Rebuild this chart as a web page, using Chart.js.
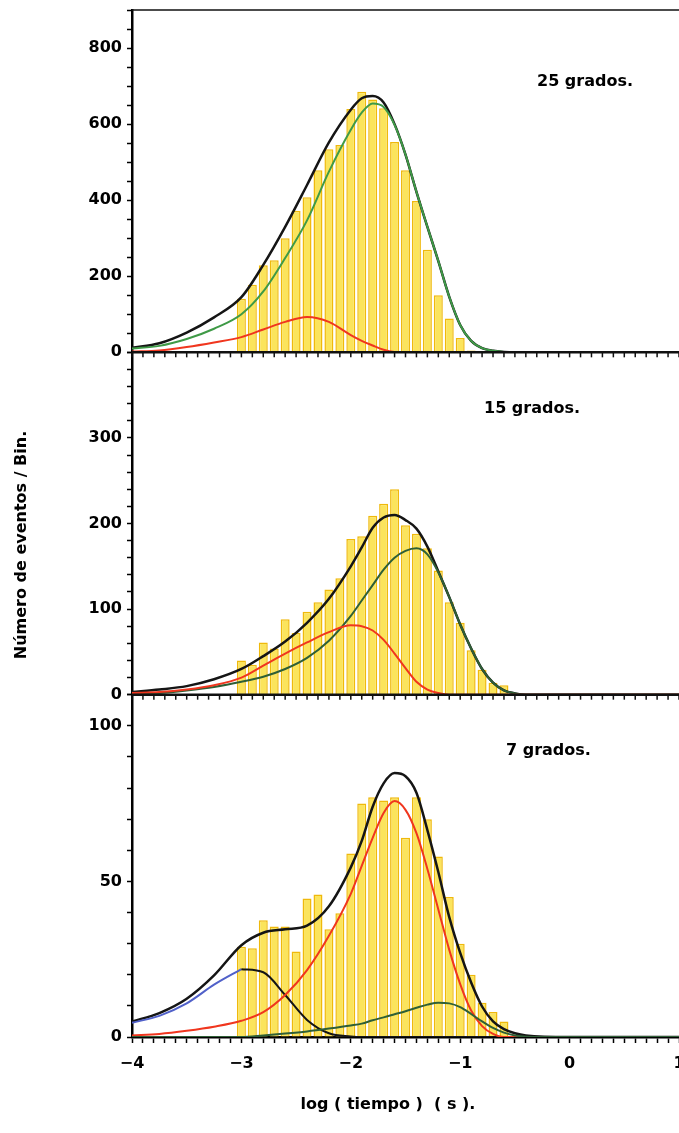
<!DOCTYPE html>
<html>
<head>
<meta charset="utf-8">
<script src="https://cdn.jsdelivr.net/npm/chart.js@4.4.1/dist/chart.umd.min.js"></script>
<style>
  html, body { margin: 0; padding: 0; background: #fff; }
</style>
</head>
<body>
<canvas id="chart" width="679" height="1133"></canvas>
<script>
// ── Datos ────────────────────────────────────────────────────
const binCenters = [-3.0,-2.9,-2.8,-2.7,-2.6,-2.5,-2.4,-2.3,-2.2,-2.1,-2.0,-1.9,-1.8,
                    -1.7,-1.6,-1.5,-1.4,-1.3,-1.2,-1.1,-1.0,-0.9,-0.8,-0.7,-0.6];

const counts25 = [141,178,229,242,300,372,408,479,534,545,640,685,665,642,553,479,398,270,150,89,38,5];
const counts15 = [40,35,61,54,88,72,97,108,123,136,182,185,209,223,240,198,188,171,145,108,84,52,29,14,11];
const counts7  = [29,28.5,37.5,35.5,35.5,27.5,44.5,45.8,34.6,39.8,59,75,77,76,77,64,77,70,58,45,30,20,11,8,5];

const fitX = [-4,-3.75,-3.5,-3.25,-3,-2.8,-2.6,-2.4,-2.2,-2,-1.9,-1.8,-1.7,-1.6,
              -1.5,-1.4,-1.3,-1.2,-1.1,-1,-0.9,-0.8,-0.7,-0.6,-0.5,-0.4,0,1];

const fit25Total = [12,24,52,92,145,230,330,440,552,638,668,674,657,600,520,422,330,240,146,72,30,11,4,1,0,0,0,0];
const fit25Green = [10,17,35,62,100,160,248,347,475,585,630,654,645,598,520,422,330,240,146,72,30,11,4,1,0,0,0,0];
const fit25Red   = [2,5,14,26,40,60,80,93,80,45,30,18,7,1,0,0,0,0,0,0,0,0,0,0,0,0,0,0];

const fit15Total = [3,6,10,18,30,45,62,84,112,150,172,195,207,210,204,194,173,144,114,82,54,30,14,5,1.5,0,0,0];
const fit15Green = [1,2,5,9,15,21,30,43,63,92,110,128,146,160,168,171,164,143,114,82,54,30,14,5,1.5,0,0,0];
const fit15Red   = [2,3,6,11,20,34,48,61,73,81,80,75,64,48,31,15,6,2,0,0,0,0,0,0,0,0,0,0];

const fit7Total = [5,7.7,12.3,19.8,29.5,33.5,34.6,35.8,42,54.5,63,74,81.5,84.8,83.8,78.5,66.5,53,38.5,27,17.5,9.8,5,2.5,1.2,0.5,0,0];
const fit7Blue  = [4.6,6.8,10.8,16.8,21.8,null,null,null,null,null,null,null,null,null,
                   null,null,null,null,null,null,null,null,null,null,null,null,null,null];
const fit7Dark  = [null,null,null,null,21.8,20.8,13.5,5.5,1.2,0.2,0,0,0,0,0,0,0,0,0,0,0,0,0,0,0,0,0,0];
const fit7Red   = [0.5,1,2,3.3,5.2,8,13.5,21.5,32.5,46,55,64,72,75.8,73,65.5,54,41,28,17,8.5,3.5,1,0,0,0,0,0];
const fit7Green = [0,0,0,0,0,0.5,1.1,1.8,2.7,3.7,4.3,5.4,6.3,7.3,8.3,9.4,10.4,11,10.8,9.6,7.4,5,2.9,1.4,0.5,0.1,0,0];

const xTickLabels = [-4,-3,-2,-1,0,1];
const yTicks25 = [0,200,400,600,800];
const yTicks15 = [0,100,200,300];
const yTicks7  = [0,50,100];
const panelLabels = ['25 grados.', '15 grados.', '7 grados.'];

// ── Estilos ──────────────────────────────────────────────────
const FONT = 'DejaVu Sans';
const BAR_FILL   = '#fbe45c';
const BAR_EDGE   = '#efb90c';
const C_BLACK    = '#151515';
const C_GREEN_HI = '#3f9a47';
const C_GREEN    = '#2f5f36';
const C_RED      = '#f0361e';
const C_BLUE     = '#5161c9';

function bars(counts, axis) {
  return {
    type: 'bar',
    data: counts.map((v, i) => ({ x: binCenters[i], y: v })),
    yAxisID: axis,
    backgroundColor: BAR_FILL,
    borderColor: BAR_EDGE,
    borderWidth: 1.5,
    grouped: false,
    barPercentage: 0.82,
    categoryPercentage: 1,
    order: 2
  };
}

function curve(values, axis, color, width) {
  return {
    type: 'line',
    data: values.map((v, i) => ({ x: fitX[i], y: v })),
    yAxisID: axis,
    borderColor: color,
    borderWidth: width,
    pointRadius: 0,
    cubicInterpolationMode: 'monotone',
    spanGaps: false,
    fill: false,
    order: 1
  };
}

function yAxis(max, step, labels) {
  return {
    type: 'linear',
    position: 'left',
    stack: 'panels',
    stackWeight: 1,
    min: 0, max: max,
    ticks: {
      stepSize: step,
      autoSkip: false,
      color: '#000',
      padding: 5,
      font: { family: FONT, size: 16, weight: 'bold' },
      callback: v => labels.includes(v) ? String(v) : ''
    },
    grid: { drawOnChartArea: false, tickLength: 5, tickColor: '#000', tickWidth: 1.5 },
    border: { color: '#000', width: 2.5 },
    afterFit(s) { s.width = 132; s.paddingTop = 0; s.paddingBottom = 0; }
  };
}

function fmtX(v) {
  const r = Math.round(v);
  if (Math.abs(v - r) > 1e-6 || !xTickLabels.includes(r)) return '';
  return r < 0 ? '\u2212' + Math.abs(r) : String(r);
}

// ── Decoración: marcos, ticks menores, rótulos ───────────────
const decor = {
  id: 'decor',
  afterDraw(chart) {
    const { ctx, chartArea: a, scales } = chart;
    const xs = scales.x;
    ctx.save();

    ctx.strokeStyle = '#111';
    ctx.lineWidth = 1.5;
    ctx.beginPath(); ctx.moveTo(a.left, a.top); ctx.lineTo(a.right, a.top); ctx.stroke();

    ['yTop', 'yMid'].forEach(id => {
      const yb = scales[id].bottom;
      ctx.lineWidth = 2.5;
      ctx.beginPath(); ctx.moveTo(a.left, yb); ctx.lineTo(a.right, yb); ctx.stroke();
      ctx.lineWidth = 1.5;
      xs.ticks.forEach(t => {
        const px = xs.getPixelForValue(t.value);
        ctx.beginPath(); ctx.moveTo(px, yb); ctx.lineTo(px, yb + 5); ctx.stroke();
      });
    });

    ctx.fillStyle = '#000';
    ctx.font = `bold 16px "${FONT}"`;
    ctx.textBaseline = 'middle';
    ctx.textAlign = 'left';
    ctx.fillText(panelLabels[0], 537, 82);
    ctx.fillText(panelLabels[1], 484, 409);
    ctx.fillText(panelLabels[2], 506, 751);

    ctx.textAlign = 'center';
    ctx.fillText('log ( tiempo )  ( s ).', 388, 1105);

    ctx.translate(22, 545);
    ctx.rotate(-Math.PI / 2);
    ctx.fillText('Número de eventos / Bin.', 0, 0);
    ctx.restore();
  }
};

// los ejes apilados a la izquierda se colocan de abajo hacia arriba
new Chart(document.getElementById('chart'), {
  type: 'line',
  data: {
    datasets: [
      bars(counts25, 'yTop'),
      curve(fit25Red,   'yTop', C_RED,      2),
      curve(fit25Green, 'yTop', C_GREEN_HI, 2),
      curve(fit25Total, 'yTop', C_BLACK,    2.5),

      bars(counts15, 'yMid'),
      curve(fit15Red,   'yMid', C_RED,   2),
      curve(fit15Green, 'yMid', C_GREEN, 2),
      curve(fit15Total, 'yMid', C_BLACK, 2.5),

      bars(counts7, 'yBot'),
      curve(fit7Green, 'yBot', C_GREEN, 2),
      curve(fit7Red,   'yBot', C_RED,   2),
      curve(fit7Dark,  'yBot', C_BLACK, 2),
      curve(fit7Blue,  'yBot', C_BLUE,  2),
      curve(fit7Total, 'yBot', C_BLACK, 2.5)
    ]
  },
  options: {
    responsive: false,
    animation: false,
    devicePixelRatio: 1,
    layout: { padding: { top: 10, left: 0, right: 0, bottom: 0 } },
    plugins: { legend: { display: false }, tooltip: { enabled: false } },
    scales: {
      x: {
        type: 'linear',
        min: -4, max: 1,
        offset: false,
        ticks: {
          stepSize: 0.1,
          autoSkip: false,
          maxRotation: 0,
          color: '#000',
          padding: 11,
          font: { family: FONT, size: 16, weight: 'bold' },
          callback: fmtX
        },
        grid: { drawOnChartArea: false, offset: false, tickLength: 6, tickColor: '#000', tickWidth: 1.5 },
        border: { color: '#000', width: 2.5 },
        afterFit(s) { s.height = 96; s.paddingLeft = 0; s.paddingRight = 0; }
      },
      yBot: yAxis(110, 10, yTicks7),
      yMid: yAxis(400, 20, yTicks15),
      yTop: yAxis(900, 50, yTicks25)
    }
  },
  plugins: [decor]
});
</script>
</body>
</html>
